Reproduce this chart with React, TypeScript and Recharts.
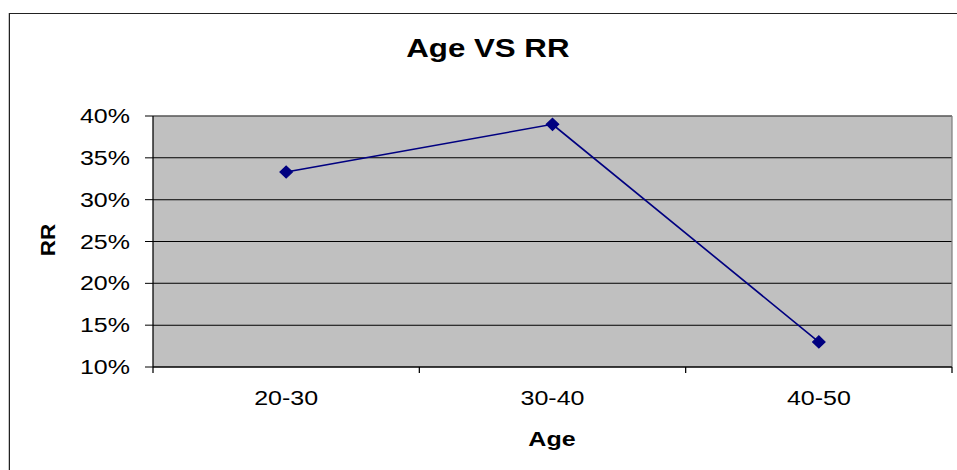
import { CartesianGrid, Line, LineChart, ReferenceLine, XAxis, YAxis } from 'recharts'

const categories = ['20-30', '30-40', '40-50']
const rrValues = [0.333, 0.39, 0.13]
const yTicks = [0.1, 0.15, 0.2, 0.25, 0.3, 0.35, 0.4]

// category centres sit at i + 0.5, the tick marks sit on the boundaries
const xTicks = categories.flatMap((_, i) => [i, i + 0.5]).concat(categories.length)

const data = categories.map((age, i) => ({ x: i + 0.5, age, rr: rrValues[i] }))

const FONT = '"Liberation Sans", Arial, sans-serif'
// the reference is an Excel chart stretched sideways, so draw narrow and scale
const SX = 1.25

function XTick({ x, y, payload }: any) {
  const v = payload.value
  if (Number.isInteger(v)) {
    return <line x1={x} x2={x} y1={y} y2={y + 6} stroke="#000" />
  }
  return (
    <text x={x} y={y + 38} textAnchor="middle" fontSize={20} fill="#000" fontFamily={FONT}>
      {categories[Math.floor(v)]}
    </text>
  )
}

function Diamond({ cx, cy }: any) {
  if (cx == null || cy == null) return null
  return (
    <polygon
      points={`${cx},${cy - 6} ${cx + 5},${cy} ${cx},${cy + 6} ${cx - 5},${cy}`}
      fill="#000080"
      stroke="#000080"
    />
  )
}

export default function App() {
  return (
    <div
      style={{
        position: 'fixed',
        left: 0,
        top: 0,
        width: 957 / SX,
        height: 470,
        transform: `scaleX(${SX})`,
        transformOrigin: '0 0',
        background: '#fff',
        overflow: 'hidden',
        fontFamily: FONT
      }}
    >
      <div
        style={{
          position: 'absolute',
          left: 7.2,
          top: 12.5,
          width: 900,
          height: 600,
          border: '1.5px solid #222'
        }}
      />
      <div
        style={{
          position: 'absolute',
          left: 0,
          width: 957 / SX,
          top: 35.5,
          textAlign: 'center',
          paddingLeft: 15,
          boxSizing: 'border-box',
          fontSize: 25,
          lineHeight: '25px',
          fontWeight: 'bold',
          color: '#000'
        }}
      >
        Age VS RR
      </div>
      <div
        style={{
          position: 'absolute',
          left: 48 / SX,
          top: 240,
          fontSize: 20,
          lineHeight: '20px',
          fontWeight: 'bold',
          whiteSpace: 'nowrap',
          transform: 'translate(-50%, -50%) rotate(-90deg) scale(1.12, 0.8)'
        }}
      >
        RR
      </div>
      <div
        style={{
          position: 'absolute',
          left: 0,
          width: (2 * 552) / SX,
          top: 429,
          textAlign: 'center',
          fontSize: 20,
          lineHeight: '20px',
          fontWeight: 'bold'
        }}
      >
        Age
      </div>
      <div style={{ position: 'absolute', left: 0, top: 0 }}>
        <LineChart
          width={766}
          height={470}
          data={data}
          margin={{ top: 116, right: 4.4, left: 0, bottom: 0 }}
        >
          <CartesianGrid vertical={false} stroke="#000" fill="#C0C0C0" />
          <ReferenceLine y={0.4} stroke="#808080" />
          <ReferenceLine x={3} stroke="#808080" />
          <XAxis
            dataKey="x"
            type="number"
            domain={[0, categories.length]}
            ticks={xTicks}
            interval={0}
            tickLine={false}
            tickSize={0}
            tickMargin={0}
            height={103}
            axisLine={{ stroke: '#000' }}
            tick={(props: any) => <XTick {...props} />}
          />
          <YAxis
            type="number"
            domain={[0.1, 0.4]}
            ticks={yTicks}
            interval={0}
            width={122.4}
            tickSize={6.4}
            tickMargin={12}
            axisLine={{ stroke: '#000' }}
            tickLine={{ stroke: '#000' }}
            tick={{ fill: '#000', fontSize: 20, fontFamily: FONT }}
            tickFormatter={(v: number) => `${Math.round(v * 100)}%`}
          />
          <Line
            type="linear"
            dataKey="rr"
            stroke="#000080"
            strokeWidth={1.5}
            dot={(props: any) => <Diamond key={props.index} {...props} />}
            isAnimationActive={false}
          />
        </LineChart>
      </div>
    </div>
  )
}
